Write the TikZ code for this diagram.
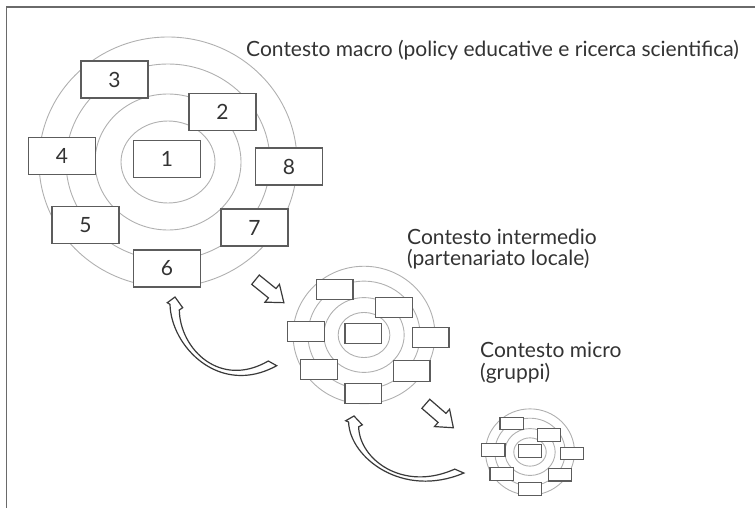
\documentclass[tikz,border=0pt]{standalone}
\usepackage{fontspec}
\setmainfont{Lato}
\definecolor{ringgray}{HTML}{B0B0B0}
\definecolor{boxgray}{HTML}{5C5C5C}
\definecolor{txtgray}{HTML}{333333}
\definecolor{arrowgray}{HTML}{3A3A3A}
\definecolor{framegray}{HTML}{6A6A6A}
\newcommand\ringset{%
  \draw[ring] (0,0) ellipse [x radius=47, y radius=41];
  \draw[ring] (0,0) ellipse [x radius=73, y radius=68];
  \draw[ring] (0,0) ellipse [x radius=102, y radius=98];
  \draw[ring] (0,0) ellipse [x radius=129, y radius=125];}
\newcommand\emptyboxes{%
  \foreach \bx/\by in {-1/-3, 54.5/-50, -53.5/-82.5, -106/-6, -82.5/63, -1/106.5, 86.5/65.5, 121/4.5}
    \draw[smallbox] (\bx-33.5,\by-18.5) rectangle (\bx+33.5,\by+18.5);}
\newcommand\curvedarrowpath{%
  \draw[blockarrow] (0,0) -- (-7.7,5.7) -- (-5,7.3)
    .. controls (-4,50) and (45,100) .. (101.7,68.7) -- (93.3,64)
    .. controls (45,92) and (5,52) .. (4.3,13) -- (7.7,10.7) -- cycle;}
\newcommand\straightarrowpath{%
  \draw[blockarrow] (0,-6) -- (21.5,-6) -- (21.5,-11.5) -- (36.5,0) -- (21.5,11.5) -- (21.5,6) -- (0,6) -- cycle;}
\begin{document}
\begin{tikzpicture}[x=1pt,y=-1pt,
  ring/.style={draw=ringgray, line width=0.9pt},
  bigbox/.style={draw=boxgray, fill=white, line width=1.3pt, minimum width=67pt, minimum height=37pt, inner sep=0pt, font=\fontsize{21}{21}\selectfont, text=txtgray},
  smallbox/.style={draw=boxgray, fill=white, line width=1.1pt},
  lbl/.style={font=\fontsize{21}{24}\selectfont, text=txtgray, inner sep=0pt, anchor=base west},
  blockarrow/.style={draw=arrowgray, fill=white, line width=1.2pt, line join=miter},
  frame/.style={draw=framegray, line width=1.5pt}]
\useasboundingbox (0,0) rectangle (755,508);
\draw[frame] (6.5,508) -- (6.5,7) -- (755,7);
% macro context
\begin{scope}[shift={(168,162)}]
  \ringset
\end{scope}
\node[bigbox] (b1) at (167,159) {1};
\node[bigbox] (b2) at (222.5,112) {2};
\node[bigbox] (b3) at (114.5,79.5) {3};
\node[bigbox] (b4) at (62,156) {4};
\node[bigbox] (b5) at (85.5,225) {5};
\node[bigbox] (b6) at (167,268.5) {6};
\node[bigbox] (b7) at (254.5,227.5) {7};
\node[bigbox] (b8) at (289,166.5) {8};
% intermediate context
\begin{scope}[shift={(364,335)}, scale=0.55]
  \ringset
  \emptyboxes
\end{scope}
% micro context
\begin{scope}[shift={(530,452)}, scale=0.345]
  \ringset
  \emptyboxes
\end{scope}
% straight arrows
\begin{scope}[shift={(255.5,279.7)}, rotate=-39]
  \straightarrowpath
\end{scope}
\begin{scope}[shift={(425.8,403.8)}, rotate=-41]
  \straightarrowpath
\end{scope}
% curved arrows
\begin{scope}[shift={(175,297)}]
  \curvedarrowpath
\end{scope}
\begin{scope}[shift={(354,416)}, xscale=1.08, yscale=0.83]
  \curvedarrowpath
\end{scope}
% labels
\node[lbl] (macro) at (246,57) {Contesto macro (policy educative e ricerca scientifica)};
\node[lbl] (inter1) at (407,244) {Contesto intermedio};
\node[lbl] (inter2) at (407,265.5) {(partenariato locale)};
\node[lbl] (micro1) at (480,357) {Contesto micro};
\node[lbl] (micro2) at (480,379) {(gruppi)};
\end{tikzpicture}
\end{document}
